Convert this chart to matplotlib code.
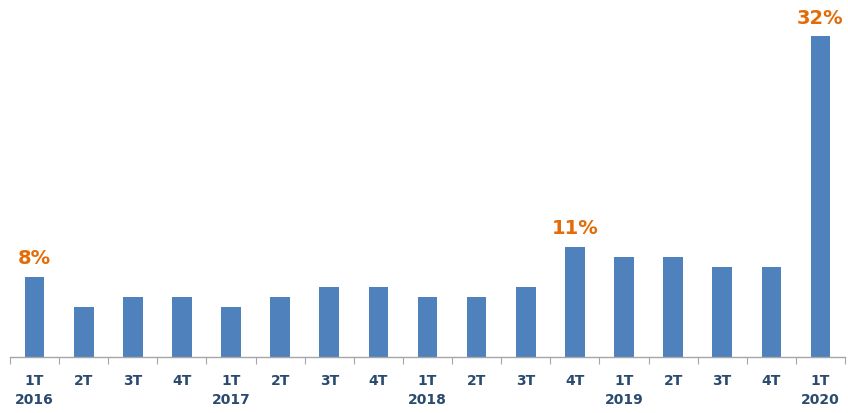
import matplotlib
matplotlib.use("Agg")
import matplotlib.pyplot as plt
import numpy as np

quarters = ["1T", "2T", "3T", "4T", "1T", "2T", "3T", "4T", "1T", "2T", "3T", "4T",
            "1T", "2T", "3T", "4T", "1T"]
years = ["2016", "", "", "", "2017", "", "", "", "2018", "", "", "", "2019", "", "", "", "2020"]
values = [8, 5, 6, 6, 5, 6, 7, 7, 6, 6, 7, 11, 10, 10, 9, 9, 32]
annotated = {0: "8%", 11: "11%", 16: "32%"}

fig = plt.figure(figsize=(8.48, 4.13), dpi=100)
ax = fig.add_axes([10 / 848, 56 / 413, 835 / 848, 357 / 413])

x = np.arange(len(values))
ax.bar(x, values, width=0.4, color="#4F81BD", zorder=2)

ax.set_xlim(-0.5, len(values) - 0.5)
ax.set_ylim(0, 35.6)

for s in ["top", "right", "left"]:
    ax.spines[s].set_visible(False)
ax.spines["bottom"].set_color("#A6A6A6")
ax.spines["bottom"].set_linewidth(1.0)
ax.set_yticks([])

# major ticks at boundaries (marks), minor at centers (labels)
ax.set_xticks(np.arange(-0.5, len(values), 1.0))
ax.set_xticklabels([])
ax.tick_params(axis="x", which="major", length=5, color="#A6A6A6", direction="out")
ax.set_xticks(x, minor=True)
labels = [q + ("\n" + y if y else "") for q, y in zip(quarters, years)]
ax.set_xticklabels(labels, minor=True, fontsize=10, fontweight="bold",
                   color="#2A4A6E", linespacing=1.45, va="top")
ax.tick_params(axis="x", which="minor", length=0, pad=12)

for i, t in annotated.items():
    ax.annotate(t, (x[i], values[i]), xytext=(0, 6), textcoords="offset points",
                ha="center", va="bottom", fontsize=14, fontweight="bold", color="#E36C09")

fig.savefig("out.png", dpi=100)
